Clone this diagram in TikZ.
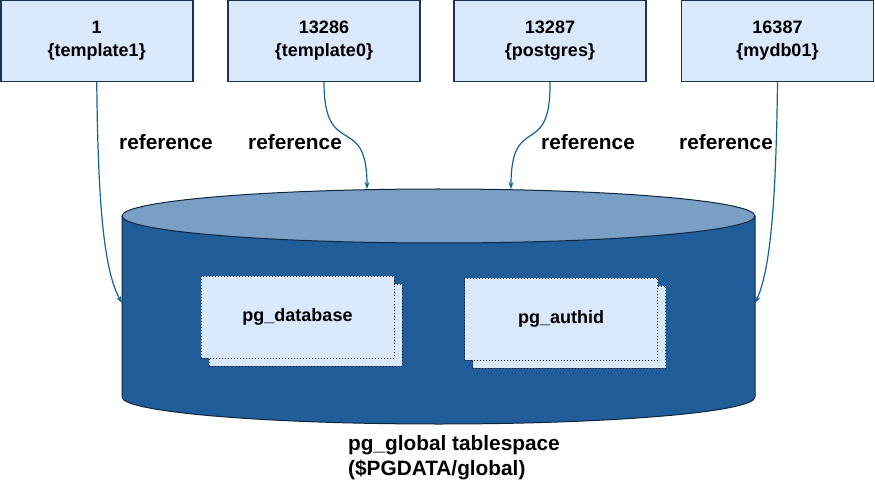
\documentclass[tikz,border=0pt]{standalone}
\usepackage{fontspec}
\setmainfont{Liberation Sans}
\usetikzlibrary{arrows.meta}
\definecolor{boxfill}{HTML}{DAE8FC}
\definecolor{boxline}{HTML}{1B3550}
\definecolor{dbbody}{HTML}{215E99}
\definecolor{dbtop}{HTML}{7A9FC5}
\definecolor{dbline}{HTML}{0E2740}
\definecolor{refline}{HTML}{17628E}
\begin{document}
\begin{tikzpicture}[x=1pt,y=1pt,
  oidbox/.style={draw=boxline, line width=1.5pt, fill=boxfill, minimum width=192pt, minimum height=81pt, align=center, font=\fontsize{18}{23}\selectfont\bfseries},
  catbox/.style={draw=black, dotted, line width=1pt, fill=boxfill, minimum width=193pt, minimum height=82pt, font=\fontsize{18}{23}\selectfont\bfseries},
  lbl/.style={font=\fontsize{20.8}{25}\selectfont\bfseries},
  refarrow/.style={draw=refline, line width=1.2pt, -{Stealth[length=7pt,width=5pt]}}]
\useasboundingbox (0,0) rectangle (875,496);

% tablespace cylinder
\fill[dbbody] (122,280) -- (122,99) arc[start angle=180, end angle=360, x radius=316.5, y radius=27] -- (755,280) -- cycle;
\draw[dbline, line width=1pt] (122,280) -- (122,99) arc[start angle=180, end angle=360, x radius=316.5, y radius=27] -- (755,280);
\draw[dbline, line width=1pt, fill=dbtop] (438.5,280) ellipse[x radius=316.5, y radius=27];

\coordinate (inl) at (122,193);
\coordinate (inr) at (755,193);
\coordinate (in2) at (367,307);
\coordinate (in3) at (511,307);

% catalogs
\node[catbox] (dbback) at (305.5,171) {};
\node[catbox] (dbcat) at (297.5,179) {pg\_database};
\node[catbox] (auback) at (569,169) {};
\node[catbox] (aucat) at (561,177) {pg\_authid};

% databases
\node[oidbox] (b1) at (96.75,455) {1\\\{template1\}};
\node[oidbox] (b2) at (324,455) {13286\\\{template0\}};
\node[oidbox] (b3) at (550,455) {13287\\\{postgres\}};
\node[oidbox] (b4) at (777.5,455) {16387\\\{mydb01\}};

\node[lbl] (r1) at (166,354) {reference};
\node[lbl] (r2) at (295,354) {reference};
\node[lbl] (r3) at (588,354) {reference};
\node[lbl] (r4) at (726,354) {reference};

\path[refarrow] (b1.south) .. controls (98,290) and (104,225) .. (inl);
\path[refarrow] (b2.south) .. controls (324,335) and (367,385) .. (in2);
\path[refarrow] (b3.south) .. controls (551,335) and (511,385) .. (in3);
\path[refarrow] (b4.south) .. controls (776,290) and (770,225) .. (inr);

\node[lbl, align=left] (ts) at (454,38) {pg\_global tablespace\\(\$PGDATA/global)};
\end{tikzpicture}
\end{document}
